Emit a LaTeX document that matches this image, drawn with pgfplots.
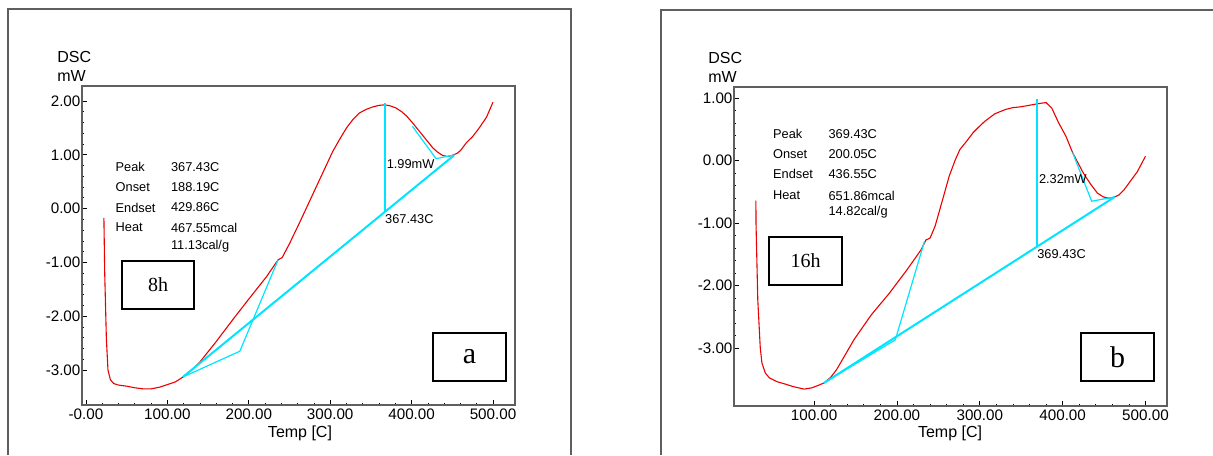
\documentclass[border=0pt]{standalone}
\usepackage{fontspec}
\setmainfont{Liberation Sans}
\newfontfamily\tnr{Liberation Serif}
\usepackage{pgfplots}
\pgfplotsset{compat=1.18}
\definecolor{dscred}{RGB}{235,0,0}
\definecolor{dsccyan}{RGB}{0,228,255}
\definecolor{framegray}{RGB}{95,95,95}

\pgfplotsset{dscaxis/.style={
  scale only axis, width=216.5pt, height=159.5pt, anchor=south west,
  axis line style={framegray, line width=0.55pt},
  tick align=inside, xtick pos=bottom, ytick pos=left,
  major tick length=2.5pt, minor tick length=1.2pt,
  tick style={black, line width=0.4pt},
  minor x tick num=4, minor y tick num=4,
  tick label style={font=\fontsize{7.6}{8}\selectfont},
  xticklabel style={inner sep=1.5pt},
  yticklabel style={inner sep=0.6pt},
}}
\newcommand{\info}{\fontsize{6.4}{7}\selectfont}

\begin{document}
\begin{tikzpicture}
\path[use as bounding box] (0,0) rectangle (606.5pt,227.5pt);

% panel a
\begin{axis}[dscaxis, at={(41pt,25pt)},
    xmin=-4.9, xmax=527, ymin=-3.65, ymax=2.28,
    xtick={0,100,200,300,400,500},
    xticklabels={-0.00,100.00,200.00,300.00,400.00,500.00},
    ytick={-3,-2,-1,0,1,2},
    yticklabels={-3.00,-2.00,-1.00,0.00,1.00,2.00}]
  \addplot[dscred, line width=0.55pt] coordinates {
    (22,-0.17) (23,-1.2) (25,-2.4) (27,-3.0) (30,-3.18) (34,-3.25) (40,-3.28)
    (50,-3.30) (60,-3.33) (70,-3.35) (80,-3.35) (90,-3.32) (100,-3.27)
    (110,-3.22) (119,-3.13) (130,-3.00) (140,-2.85) (160,-2.47) (180,-2.07)
    (200,-1.68) (222,-1.26) (236,-0.95) (241,-0.91) (250,-0.65) (263,-0.24)
    (283,0.41) (303,1.06) (312,1.30) (320,1.50) (328,1.66) (336,1.78)
    (345,1.85) (352,1.89) (360,1.92) (367,1.93) (374,1.91) (381,1.87)
    (388,1.80) (394,1.72) (402,1.58) (410,1.43) (418,1.28) (426,1.13)
    (432,1.05) (438,0.99) (444,0.97) (450,0.99) (456,1.03) (460,1.08)
    (467,1.22) (475,1.34) (483,1.50) (492,1.70) (500,1.98)};
  \addplot[dsccyan, line width=1pt] coordinates {(119,-3.13) (452,0.99)};
  \addplot[dsccyan, line width=0.9pt] coordinates {(367.43,-0.06) (367.43,1.96)};
  \addplot[dsccyan, line width=0.6pt] coordinates {(119,-3.13) (189,-2.65) (236,-0.95)};
  \addplot[dsccyan, line width=0.6pt] coordinates {(401,1.53) (430,0.93) (453,1.0)};
  \node[anchor=west, inner sep=0pt, font=\info] at (axis cs:369,0.83) {1.99mW};
  \node[anchor=west, inner sep=0pt, font=\info] at (axis cs:367,-0.19) {367.43C};
  \node[anchor=west, inner sep=0pt, font=\info] at (axis cs:36,0.78) {Peak};
  \node[anchor=west, inner sep=0pt, font=\info] at (axis cs:36,0.41) {Onset};
  \node[anchor=west, inner sep=0pt, font=\info] at (axis cs:36,0.02) {Endset};
  \node[anchor=west, inner sep=0pt, font=\info] at (axis cs:36,-0.35) {Heat};
  \node[anchor=west, inner sep=0pt, font=\info] at (axis cs:104,0.78) {367.43C};
  \node[anchor=west, inner sep=0pt, font=\info] at (axis cs:104,0.41) {188.19C};
  \node[anchor=west, inner sep=0pt, font=\info] at (axis cs:104,0.02) {429.86C};
  \node[anchor=west, inner sep=0pt, font=\info] at (axis cs:104,-0.35) {467.55mcal};
  \node[anchor=west, inner sep=0pt, font=\info] at (axis cs:104,-0.69) {11.13cal/g};
\end{axis}

% panel b
\begin{axis}[dscaxis, at={(367pt,24.5pt)},
    xmin=3.3, xmax=526, ymin=-3.93, ymax=1.18,
    xtick={100,200,300,400,500},
    xticklabels={100.00,200.00,300.00,400.00,500.00},
    ytick={-3,-2,-1,0,1},
    yticklabels={-3.00,-2.00,-1.00,0.00,1.00}]
  \addplot[dscred, line width=0.55pt] coordinates {
    (29.7,-0.64) (29.9,-1.03) (32,-2.23) (35,-3.0) (37,-3.24) (41,-3.40)
    (46,-3.48) (55,-3.54) (63,-3.57) (75,-3.62) (88,-3.66) (97,-3.64)
    (105,-3.60) (112,-3.56) (120,-3.47) (127,-3.35) (138,-3.10) (148,-2.87)
    (169,-2.47) (191,-2.12) (212,-1.75) (229,-1.43) (235,-1.27) (240,-1.24)
    (246,-1.05) (255,-0.63) (263,-0.25) (270,0.00) (276,0.18) (284,0.31)
    (292,0.45) (298,0.53) (306,0.63) (318,0.75) (331,0.82) (340,0.85)
    (348,0.86) (357,0.88) (365,0.90) (374,0.92) (380,0.93) (387,0.84)
    (395,0.61) (404,0.39) (412,0.13) (425,-0.20) (434,-0.38) (442,-0.52)
    (449,-0.58) (455,-0.60) (461,-0.59) (468,-0.55) (474,-0.47) (480,-0.36)
    (490,-0.18) (500,0.07)};
  \addplot[dsccyan, line width=1pt] coordinates {(112,-3.56) (463,-0.58)};
  \addplot[dsccyan, line width=0.9pt] coordinates {(369.43,-1.38) (369.43,0.99)};
  \addplot[dsccyan, line width=0.6pt] coordinates {(112,-3.56) (198,-2.87) (233,-1.30)};
  \addplot[dsccyan, line width=0.6pt] coordinates {(412,0.13) (435,-0.65) (463,-0.58)};
  \node[anchor=west, inner sep=0pt, font=\info] at (axis cs:371,-0.30) {2.32mW};
  \node[anchor=west, inner sep=0pt, font=\info] at (axis cs:369,-1.49) {369.43C};
  \node[anchor=west, inner sep=0pt, font=\info] at (axis cs:50,0.43) {Peak};
  \node[anchor=west, inner sep=0pt, font=\info] at (axis cs:50,0.11) {Onset};
  \node[anchor=west, inner sep=0pt, font=\info] at (axis cs:50,-0.22) {Endset};
  \node[anchor=west, inner sep=0pt, font=\info] at (axis cs:50,-0.56) {Heat};
  \node[anchor=west, inner sep=0pt, font=\info] at (axis cs:117,0.43) {369.43C};
  \node[anchor=west, inner sep=0pt, font=\info] at (axis cs:117,0.11) {200.05C};
  \node[anchor=west, inner sep=0pt, font=\info] at (axis cs:117,-0.22) {436.55C};
  \node[anchor=west, inner sep=0pt, font=\info] at (axis cs:117,-0.56) {651.86mcal};
  \node[anchor=west, inner sep=0pt, font=\info] at (axis cs:117,-0.82) {14.82cal/g};
\end{axis}

% frames, axis titles and panel tags (pixel grid of the reference)
\begin{scope}[x=0.5pt, y=-0.5pt, shift={(0pt,227.5pt)}]
  \draw[framegray, line width=0.6pt] (8,455) -- (8,9) -- (571,9) -- (571,455);
  \draw[framegray, line width=0.6pt] (661,455) -- (661,10) -- (1213,10);
  \node[anchor=west, inner sep=0pt, font=\fontsize{8}{9}\selectfont] at (57,57) {DSC};
  \node[anchor=west, inner sep=0pt, font=\fontsize{8}{9}\selectfont] at (57,76) {mW};
  \node[anchor=west, inner sep=0pt, font=\fontsize{8}{9}\selectfont] at (708,58) {DSC};
  \node[anchor=west, inner sep=0pt, font=\fontsize{8}{9}\selectfont] at (708,77) {mW};
  \node[font=\fontsize{8}{9}\selectfont] at (300,433) {Temp [C]};
  \node[font=\fontsize{8}{9}\selectfont] at (950,433) {Temp [C]};
  \draw[line width=1.1pt] (122,261) rectangle (194,309);
  \node[font=\tnr\fontsize{10}{11}\selectfont] at (158,285) {8h};
  \draw[line width=1.1pt] (433,333) rectangle (506,381);
  \node[font=\tnr\fontsize{15}{16}\selectfont] at (469.5,357) {a};
  \draw[line width=1.1pt] (769,237) rectangle (842,285);
  \node[font=\tnr\fontsize{10}{11}\selectfont] at (805.5,261) {16h};
  \draw[line width=1.1pt] (1081,333) rectangle (1154,381);
  \node[font=\tnr\fontsize{15}{16}\selectfont] at (1117.5,357) {b};
\end{scope}
\end{tikzpicture}
\end{document}
